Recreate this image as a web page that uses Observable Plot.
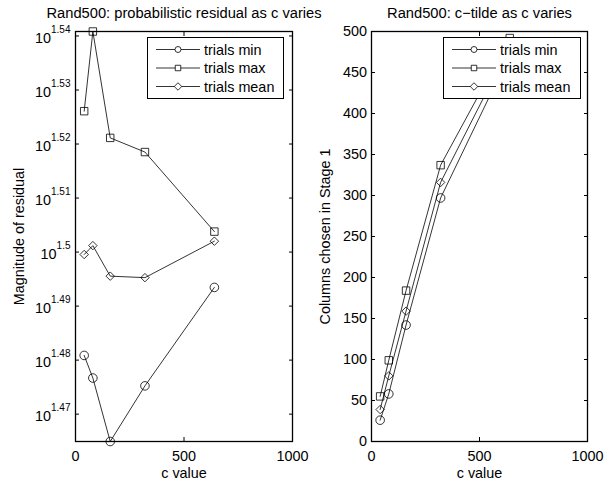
<!DOCTYPE html>
<html><head><meta charset="utf-8">
<script src="https://cdn.jsdelivr.net/npm/d3@7"></script>
<script src="https://cdn.jsdelivr.net/npm/@observablehq/plot@0.6"></script>
<style>
html,body{margin:0;padding:0;background:#fff;}
#chart{position:relative;width:604px;height:483px;font-family:"Liberation Sans",Arial,Helvetica,sans-serif;color:#000;}
#chart svg{position:absolute;left:0;top:0;}
.legend{position:absolute;background:#fff;border:1px solid #000;box-sizing:border-box;}
.legend svg{position:absolute;left:0;top:0;}
</style></head><body><div id="chart"></div>
<script>
// ---- data ----
const cValues = [40, 80, 160, 320, 640];
const seriesNames = ["trials min", "trials max", "trials mean"];
const residualMin = [30.26, 29.97, 29.17, 29.87, 31.15];
const residualMax = [33.58, 34.74, 33.20, 33.00, 31.90];
const residualMean = [31.59, 31.71, 31.30, 31.28, 31.77];
const ctildeMin = [26, 58, 142, 297, 472];
const ctildeMax = [55, 99, 184, 337, 492];
const ctildeMean = [39, 80, 159, 316, 482];
const xTicks = [0, 500, 1000];
const residualTickExponents = [1.47, 1.48, 1.49, 1.5, 1.51, 1.52, 1.53, 1.54];
const columnTicks = [0, 50, 100, 150, 200, 250, 300, 350, 400, 450, 500];
const titles = ["Rand500: probabilistic residual as c varies", "Rand500: c\u2212tilde as c varies"];
const yLabels = ["Magnitude of residual", "Columns chosen in Stage 1"];
const xLabel = "c value";

const symbols = ["circle", "square", "diamond2"];
const symbolR = [4.3, 4.2, 3.8];
const FONT = '"Liberation Sans", Arial, Helvetica, sans-serif';
const FS = 14.4;

function rows(lists) {
  return seriesNames.flatMap((s, k) => cValues.map((c, i) => ({series: s, c, v: lists[k][i]})));
}

function seriesMarks(data) {
  const m = [Plot.line(data, {x: "c", y: "v", z: "series", stroke: "black", strokeWidth: 0.8})];
  seriesNames.forEach((s, k) => {
    m.push(Plot.dot(data.filter(d => d.series === s), {x: "c", y: "v", symbol: () => symbols[k], r: symbolR[k], stroke: "black", fill: "none", strokeWidth: 0.8}));
  });
  return m;
}

function labelMarks(i, dxY) {
  return [
    Plot.text([titles[i]], {frameAnchor: "top", lineAnchor: "middle", textAnchor: "middle", dy: -18, fontSize: 14.7}),
    Plot.text([xLabel], {frameAnchor: "bottom", lineAnchor: "middle", textAnchor: "middle", dy: 31.5, fontSize: FS}),
    Plot.text([yLabels[i]], {frameAnchor: "left", lineAnchor: "middle", textAnchor: "middle", rotate: -90, dx: dxY, fontSize: FS})
  ];
}

const chart = document.getElementById("chart");
const baseStyle = {overflow: "visible", background: "transparent", fontFamily: FONT, fontSize: FS + "px", color: "black"};
const fmt = d => String(d);

// ---- left plot ----
const leftData = rows([residualMin, residualMax, residualMean]);
const leftExtent = d3.extent(leftData, d => d.v);
const leftTicks = residualTickExponents.map(e => 10 ** e);
const left = Plot.plot({
  width: 604, height: 483,
  marginLeft: 75, marginRight: 312, marginTop: 31, marginBottom: 42,
  style: baseStyle,
  x: {domain: [0, 1000], label: null},
  y: {type: "log", domain: leftExtent, label: null},
  marks: [
    ...seriesMarks(leftData),
    Plot.frame({stroke: "black", strokeWidth: 1.3}),
    Plot.axisX(xTicks, {anchor: "bottom", tickSize: 0, tickPadding: 9, fontSize: FS, label: null, tickFormat: fmt}),
    Plot.axisX(xTicks, {anchor: "bottom", tickSize: -4, fill: "none", label: null}),
    Plot.axisX(xTicks, {anchor: "top", tickSize: -4, fill: "none", label: null}),
    Plot.axisY(leftTicks, {anchor: "left", tickSize: 0, tickPadding: 5, dy: 2, fontSize: FS, label: null,
      tickFormat: d => "10^" + (+Math.log10(d).toFixed(2))}),
    Plot.axisY(leftTicks, {anchor: "left", tickSize: -4, fill: "none", label: null}),
    Plot.axisY(leftTicks, {anchor: "right", tickSize: -4, fill: "none", label: null}),
    ...labelMarks(0, -56.5)
  ]
});
left.querySelectorAll("text").forEach(t => {
  const m = /^10\^(.+)$/.exec(t.textContent);
  if (!m) return;
  t.textContent = "10";
  const ts = document.createElementNS("http://www.w3.org/2000/svg", "tspan");
  ts.setAttribute("dy", "-9.5");
  ts.setAttribute("font-size", "10");
  ts.textContent = m[1];
  t.appendChild(ts);
});
chart.appendChild(left);

// ---- right plot ----
const rightData = rows([ctildeMin, ctildeMax, ctildeMean]);
const right = Plot.plot({
  width: 604, height: 483,
  marginLeft: 371, marginRight: 17, marginTop: 31, marginBottom: 42,
  style: baseStyle,
  x: {domain: [0, 1000], label: null},
  y: {domain: [0, 500], label: null},
  marks: [
    ...seriesMarks(rightData),
    Plot.frame({stroke: "black", strokeWidth: 1.3}),
    Plot.axisX(xTicks, {anchor: "bottom", tickSize: 0, tickPadding: 9, fontSize: FS, label: null, tickFormat: fmt}),
    Plot.axisX(xTicks, {anchor: "bottom", tickSize: -4, fill: "none", label: null}),
    Plot.axisX(xTicks, {anchor: "top", tickSize: -4, fill: "none", label: null}),
    Plot.axisY(columnTicks, {anchor: "left", tickSize: 0, tickPadding: 4.5, fontSize: FS, label: null, tickFormat: fmt}),
    Plot.axisY(columnTicks, {anchor: "left", tickSize: -4, fill: "none", label: null}),
    Plot.axisY(columnTicks, {anchor: "right", tickSize: -4, fill: "none", label: null}),
    ...labelMarks(1, -46)
  ]
});
chart.appendChild(right);

// ---- legends ----
function legend(x, y, w, h) {
  const div = document.createElement("div");
  div.className = "legend";
  Object.assign(div.style, {left: x + "px", top: y + "px", width: w + "px", height: h + "px"});
  const svg = d3.create("svg").attr("width", w).attr("height", h)
    .attr("font-family", FONT).attr("font-size", FS);
  const lsym = [d3.symbolCircle, d3.symbolSquare, d3.symbolDiamond2];
  const lsize = [28, 30, 36];
  seriesNames.forEach((s, k) => {
    const cy = 11.5 + k * 18.5;
    svg.append("line").attr("x1", 8).attr("x2", 52).attr("y1", cy).attr("y2", cy)
      .attr("stroke", "black").attr("stroke-width", 0.8);
    svg.append("path").attr("d", d3.symbol(lsym[k], lsize[k])()).attr("transform", `translate(30,${cy})`)
      .attr("fill", "white").attr("stroke", "black").attr("stroke-width", 0.8);
    svg.append("text").attr("x", 56).attr("y", cy).attr("dy", "0.35em").text(s);
  });
  div.appendChild(svg.node());
  chart.appendChild(div);
}
legend(147, 37, 137, 62);
legend(443, 37, 138, 62);
</script></body></html>
